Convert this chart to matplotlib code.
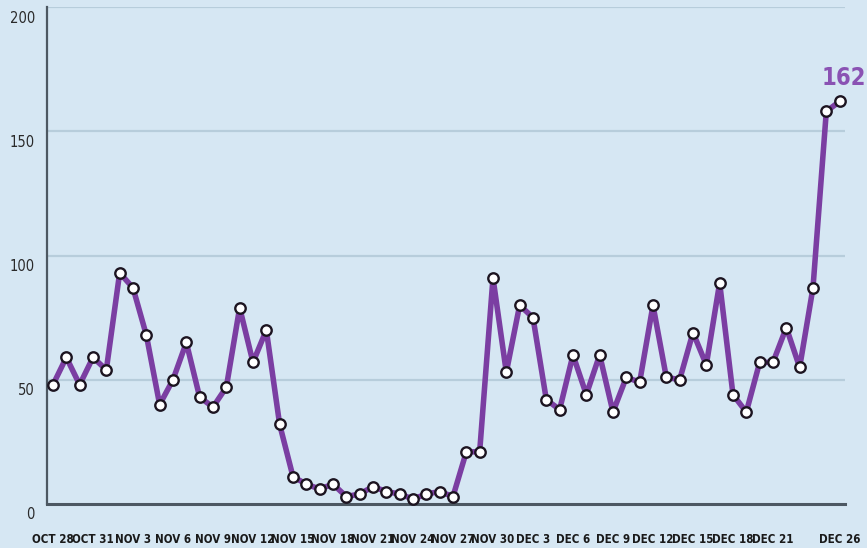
import numpy as np
import matplotlib.pyplot as plt
from matplotlib.transforms import offset_copy

# daily counts, one per day from Oct 28 to Dec 26
counts = [48, 59, 48, 59, 54, 93, 87, 68, 40, 50,
          65, 43, 39, 47, 79, 57, 70, 32, 11, 8,
          6, 8, 3, 4, 7, 5, 4, 2, 4, 5,
          3, 21, 21, 91, 53, 80, 75, 42, 38, 60,
          44, 60, 37, 51, 49, 80, 51, 50, 69, 56,
          89, 44, 37, 57, 57, 71, 55, 87, 158, 162]

# day index of each date label
tick_days = [0, 3, 6, 9, 12, 15, 18, 21, 24, 27, 30, 33, 36, 39, 42, 45, 48, 51, 54, 59]
tick_names = ['OCT 28', 'OCT 31', 'NOV 3', 'NOV 6', 'NOV 9', 'NOV 12', 'NOV 15',
              'NOV 18', 'NOV 21', 'NOV 24', 'NOV 27', 'NOV 30', 'DEC 3', 'DEC 6',
              'DEC 9', 'DEC 12', 'DEC 15', 'DEC 18', 'DEC 21', 'DEC 26']
y_ticks = [0, 50, 100, 150, 200]

bg = '#d6e7f3'
purple = '#7b3ea2'
narrow = ['Liberation Sans Narrow', 'DejaVu Sans']

fig = plt.figure(figsize=(8.67, 5.48), dpi=100, facecolor=bg)
ax = fig.add_axes([0.0542, 0.0803, 0.9204, 0.9069])
ax.set_facecolor(bg)

days = np.arange(len(counts))

# horizontal guide lines
for v in y_ticks[1:]:
    ax.axhline(v, color='#b7cddb', lw=1.6, zorder=1)

ax.plot(days, counts, color=purple, lw=4, zorder=3,
        marker='o', markersize=7.5, markerfacecolor='white',
        markeredgecolor='#1c1420', markeredgewidth=1.7, clip_on=False)

ax.set_xlim(-0.45, 59.4)
ax.set_ylim(0, 200)

# spines
for s in ['top', 'right']:
    ax.spines[s].set_visible(False)
ax.spines['left'].set_color('#4d5862')
ax.spines['left'].set_linewidth(1.6)
ax.spines['bottom'].set_color('#4d5862')
ax.spines['bottom'].set_linewidth(2.2)

# x labels
ax.set_xticks(tick_days)
ax.set_xticklabels(tick_names, fontsize=8.3, fontweight='bold', family=narrow,
                   fontstretch='condensed', color='#1a1a1a')
ax.tick_params(axis='x', length=0, pad=21)

# y labels sit a little below their lines
ax.set_yticks([])
ytrans = offset_copy(ax.get_yaxis_transform(), fig=fig, x=-12, y=-11, units='dots')
for v in y_ticks:
    ax.text(0, v, str(v), transform=ytrans, ha='right', va='center',
            fontsize=10.5, family=narrow, fontstretch='condensed', color='#2a2a2a')

# value callout on the last point
ax.annotate(str(counts[-1]), xy=(days[-1], counts[-1]), xytext=(3, 17),
            textcoords='offset points', ha='center', va='center',
            fontsize=17, fontweight='bold', family=narrow, fontstretch='condensed',
            color='#8a52b3', annotation_clip=False)

fig.savefig('out.png', dpi=100, facecolor=bg)
